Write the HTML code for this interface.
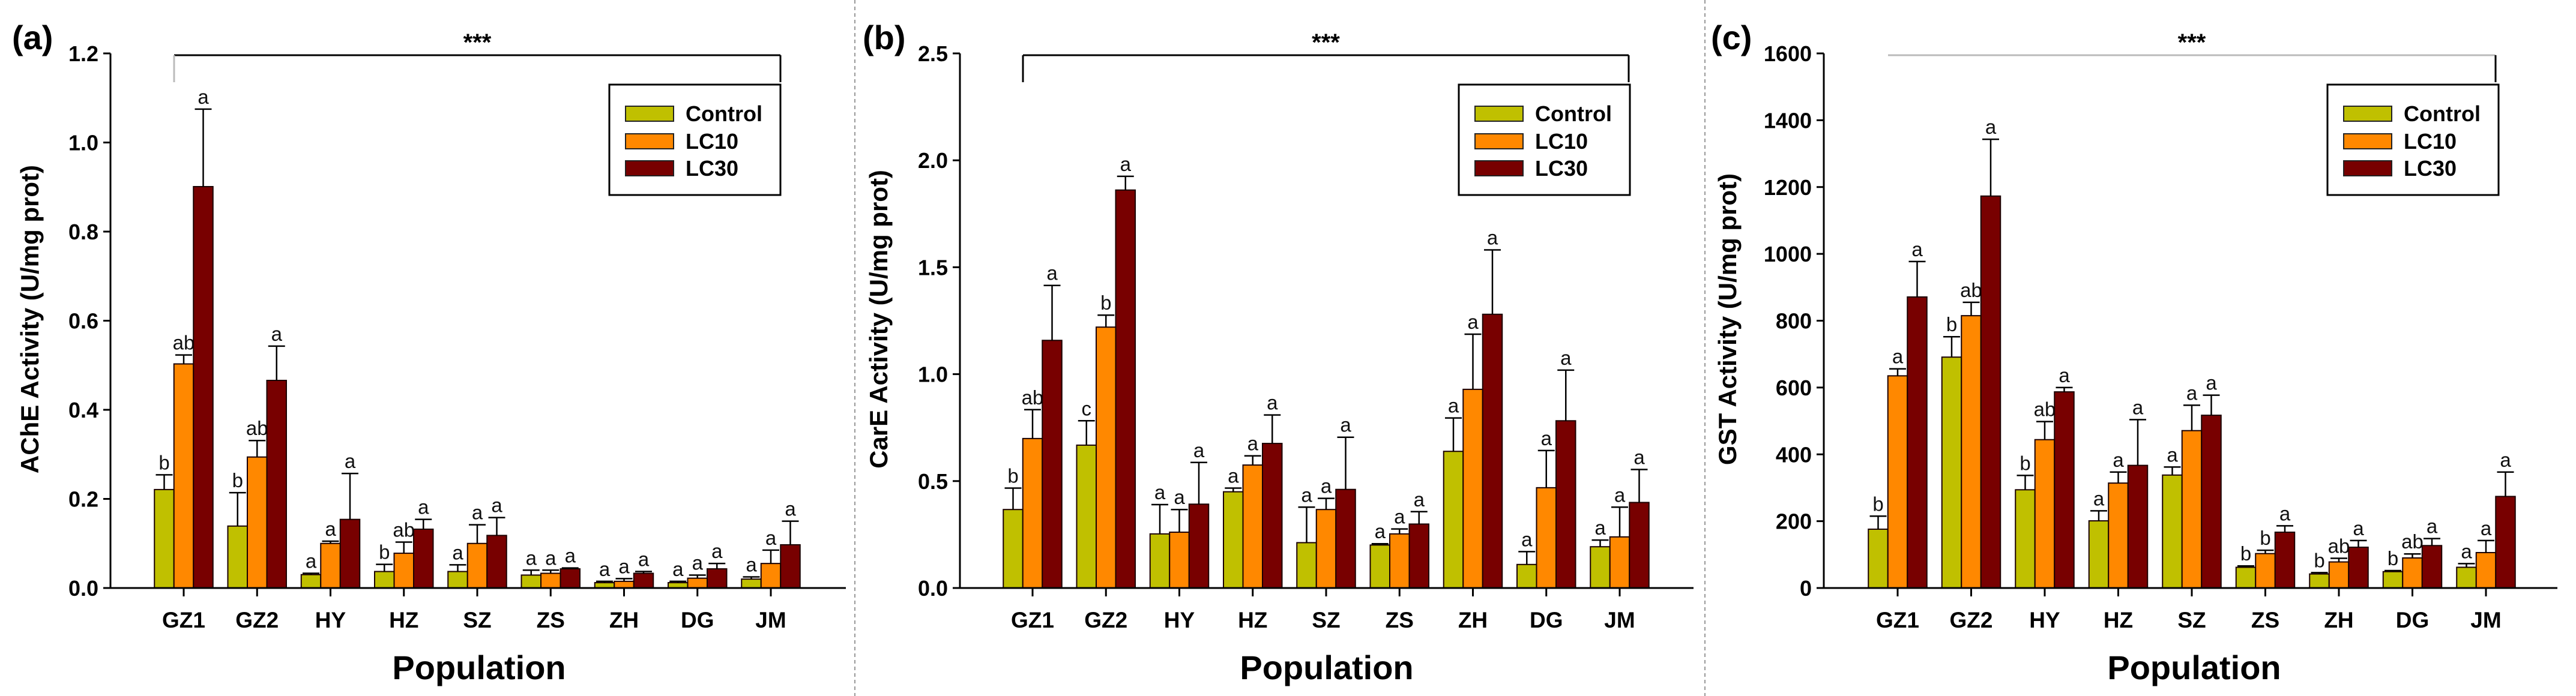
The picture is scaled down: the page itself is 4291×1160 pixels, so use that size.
<!DOCTYPE html>
<html><head><meta charset="utf-8"><style>
html,body{margin:0;padding:0;background:#fff;}
svg{display:block;font-family:"Liberation Sans",Arial,sans-serif;}
</style></head><body>
<svg id="chart" width="4291" height="1160" viewBox="0 0 4291 1160" xmlns="http://www.w3.org/2000/svg">
<rect x="0" y="0" width="4291" height="1160" fill="#fff"/>
</svg>
<script>
const categories = ["GZ1","GZ2","HY","HZ","SZ","ZS","ZH","DG","JM"];
const seriesNames = ["Control","LC10","LC30"];
const achControl = [0.221,0.139,0.030,0.037,0.037,0.029,0.012,0.012,0.020];
const achControlErr = [0.033,0.075,0.003,0.016,0.015,0.011,0.003,0.003,0.005];
const achLC10 = [0.503,0.294,0.100,0.078,0.100,0.033,0.015,0.022,0.055];
const achLC10Err = [0.020,0.037,0.005,0.025,0.042,0.007,0.006,0.007,0.030];
const achLC30 = [0.901,0.466,0.154,0.132,0.118,0.043,0.033,0.043,0.097];
const achLC30Err = [0.174,0.077,0.103,0.022,0.040,0.002,0.004,0.012,0.053];
const achLetters = [["b","ab","a"],["b","ab","a"],["a","a","a"],["b","ab","a"],["a","a","a"],["a","a","a"],["a","a","a"],["a","a","a"],["a","a","a"]];
const achTicks = ["0.0","0.2","0.4","0.6","0.8","1.0","1.2"];
const careControl = [0.367,0.668,0.253,0.450,0.212,0.201,0.639,0.110,0.193];
const careControlErr = [0.100,0.114,0.137,0.017,0.166,0.006,0.156,0.060,0.031];
const careLC10 = [0.699,1.220,0.261,0.575,0.367,0.253,0.929,0.469,0.239];
const careLC10Err = [0.135,0.056,0.106,0.043,0.052,0.023,0.258,0.174,0.139];
const careLC30 = [1.158,1.861,0.392,0.676,0.461,0.299,1.280,0.782,0.400];
const careLC30Err = [0.257,0.064,0.195,0.133,0.244,0.058,0.301,0.237,0.154];
const careLetters = [["b","ab","a"],["c","b","a"],["a","a","a"],["a","a","a"],["a","a","a"],["a","a","a"],["a","a","a"],["a","a","a"],["a","a","a"]];
const careTicks = ["0.0","0.5","1.0","1.5","2.0","2.5"];
const gstControl = [176,691,294,201,338,62,42,49,62];
const gstControlErr = [39,61,43,30,24,4,4,3,11];
const gstLC10 = [635,815,444,314,471,103,78,90,106];
const gstLC10Err = [21,40,54,33,76,10,11,12,36];
const gstLC30 = [871,1173,587,367,517,167,122,127,274];
const gstLC30Err = [106,170,13,137,60,19,20,21,73];
const gstLetters = [["b","a","a"],["b","ab","a"],["b","ab","a"],["a","a","a"],["a","a","a"],["b","b","a"],["b","ab","a"],["b","ab","a"],["a","a","a"]];
const gstTicks = ["0","200","400","600","800","1000","1200","1400","1600"];

const NS="http://www.w3.org/2000/svg";
const svg=document.getElementById('chart');
const colors=["#c0c000","#ff8800","#780000"];
function mk(tag,attrs,parent,text){const e=document.createElementNS(NS,tag);for(const k in attrs)e.setAttribute(k,attrs[k]);if(text!==undefined)e.textContent=text;(parent||svg).appendChild(e);return e;}

function panel(p){
  const g=mk('g',{});
  
  
  const y0=980, y1=89;
  const ymax=p.max;
  const Y=v=>y0-(v/ymax)*(y0-y1);
  const X=i=>p.firstTick+i*p.spacing;
  // panel label
  const pl=mk('text',{x:p.labelX,y:82,'font-size':56,'font-weight':'bold',fill:'#000'},g,p.label);
  
  
  // y ticks
  p.ticks.forEach((t,i)=>{
    const v=parseFloat(t); const yy=Y(v);
    mk('line',{x1:p.axisX-12,x2:p.axisX,y1:yy,y2:yy,stroke:'#000','stroke-width':3},g);
    const tl=mk('text',{x:p.axisX-20,y:yy+13,'font-size':36,'font-weight':'bold','text-anchor':'end',fill:'#000'},g,t);
    
    
  });
  // bars
  const data=[p.c,p.l10,p.l30], errs=[p.ce,p.l10e,p.l30e];
  const bw=32.5;
  categories.forEach((cat,i)=>{
    const tc=X(i);
    for(let s=0;s<3;s++){
      const bx=tc-48.75+s*bw;
      const v=data[s][i], e=errs[s][i];
      const by=Y(v);
      const r=mk('rect',{x:bx,y:by,width:bw,height:y0-by,fill:colors[s],stroke:'#1a0000','stroke-width':2},g);
      
      
      const cx=bx+bw/2, ey=Y(v+e);
      mk('line',{x1:cx,x2:cx,y1:by,y2:ey,stroke:'#000','stroke-width':2.5},g);
      mk('line',{x1:cx-14,x2:cx+14,y1:ey,y2:ey,stroke:'#000','stroke-width':2.5},g);
      const lt=mk('text',{x:cx,y:ey-9,'font-size':33,'text-anchor':'middle',fill:'#111'},g,p.letters[i][s]);
      
      
    }
    mk('line',{x1:tc,x2:tc,y1:y0,y2:y0+14,stroke:'#000','stroke-width':3},g);
    const xl=mk('text',{x:tc,y:1046,'font-size':37,'font-weight':'bold','text-anchor':'middle',fill:'#000'},g,cat);
    
    
  });
  // axes
  const ya=mk('line',{x1:p.axisX,x2:p.axisX,y1:y1,y2:y0,stroke:'#000','stroke-width':3},g);
  
  
  const xa=mk('line',{x1:p.axisX-12,x2:p.axisEnd,y1:y0,y2:y0,stroke:'#000','stroke-width':3},g);
  
  
  // titles
  const yt=mk('text',{x:0,y:0,'font-size':42,'font-weight':'bold','text-anchor':'middle',fill:'#000',transform:`translate(${p.ytX},532) rotate(-90)`},g,p.ytitle);
  
  
  const xt=mk('text',{x:p.xtX,y:1132,'font-size':56,'font-weight':'bold','text-anchor':'middle',fill:'#000'},g,'Population');
  
  
  // bracket
  const bc=p.bracketColor;
  mk('line',{x1:p.bL,x2:p.bR,y1:92,y2:92,stroke:bc,'stroke-width':3},g);
  if(p.leftDrop) mk('line',{x1:p.bL,x2:p.bL,y1:92,y2:137,stroke:p.leftDrop,'stroke-width':3},g);
  mk('line',{x1:p.bR,x2:p.bR,y1:92,y2:137,stroke:'#000','stroke-width':3},g);
  const st=mk('text',{x:(p.bL+p.bR)/2,y:84,'font-size':40,'font-weight':'bold','text-anchor':'middle',fill:'#000'},g,'***');
  
  
  // legend
  const lg=mk('g',{},g);
  
  
  mk('rect',{x:p.legX,y:141,width:285,height:184,fill:'#fff',stroke:'#000','stroke-width':3},lg);
  const rowsY=[177,223,268];
  seriesNames.forEach((n,s)=>{
    const sw=mk('rect',{x:p.legX+27,y:rowsY[s],width:80,height:25,fill:colors[s],stroke:'#222','stroke-width':2},lg);
    
    
    const tx=mk('text',{x:p.legX+127,y:rowsY[s]+25,'font-size':36,'font-weight':'bold',fill:'#000'},lg,n);
    
    
  });
}

panel({id:'ache',label:'(a)',labelX:20,max:1.2,ticks:achTicks,axisX:184,axisEnd:1409,firstTick:306,spacing:122.25,
  c:achControl,ce:achControlErr,l10:achLC10,l10e:achLC10Err,l30:achLC30,l30e:achLC30Err,letters:achLetters,
  ytitle:'AChE Activity (U/mg prot)',ytX:64,xtX:798,bL:290,bR:1300,bracketColor:'#000',leftDrop:'#bbb',legX:1015});
panel({id:'care',label:'(b)',labelX:1437,max:2.5,ticks:careTicks,axisX:1599,axisEnd:2821,firstTick:1720,spacing:122.25,
  c:careControl,ce:careControlErr,l10:careLC10,l10e:careLC10Err,l30:careLC30,l30e:careLC30Err,letters:careLetters,
  ytitle:'CarE Activity (U/mg prot)',ytX:1478,xtX:2210,bL:1704,bR:2713,bracketColor:'#000',leftDrop:'#000',legX:2430});
panel({id:'gst',label:'(c)',labelX:2850,max:1600,ticks:gstTicks,axisX:3038,axisEnd:4260,firstTick:3161,spacing:122.5,
  c:gstControl,ce:gstControlErr,l10:gstLC10,l10e:gstLC10Err,l30:gstLC30,l30e:gstLC30Err,letters:gstLetters,
  ytitle:'GST Activity (U/mg prot)',ytX:2892,xtX:3655,bL:3145,bR:4157,bracketColor:'#bbb',leftDrop:null,legX:3877});

[1424,2840].forEach(x=>{
  const d=mk('line',{x1:x,x2:x,y1:0,y2:1160,stroke:'#999','stroke-width':2,'stroke-dasharray':'6,5'});
  
  
});
</script>
</body></html>
